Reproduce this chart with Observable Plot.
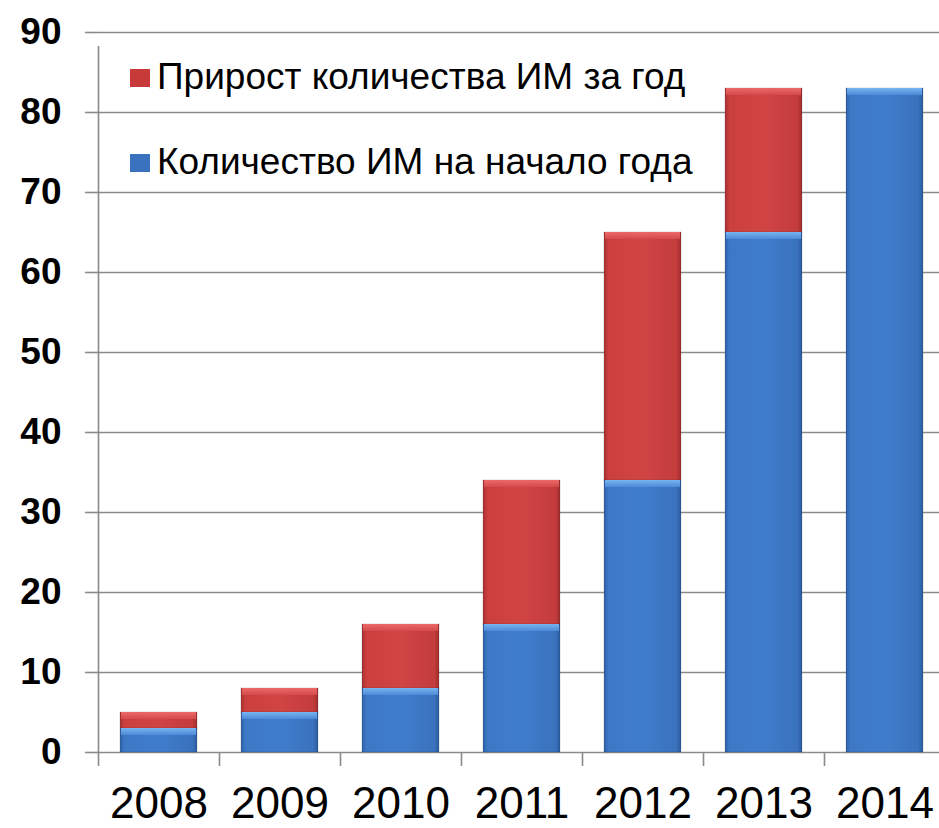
<!DOCTYPE html>
<html><head><meta charset="utf-8">
<script src="https://cdn.jsdelivr.net/npm/d3@7"></script>
<script src="https://cdn.jsdelivr.net/npm/@observablehq/plot@0.6"></script>
<style>
body{margin:0;background:#fff;}
#wrap{position:relative;width:939px;height:828px;font-family:"Liberation Sans",Arial,sans-serif;}
.leg{position:absolute;left:130px;font-size:37px;color:#000;white-space:nowrap;line-height:1;}
.sw{display:inline-block;width:20px;height:18px;margin-right:7px;vertical-align:2px;}
</style>
</head><body>
<div id="wrap"></div>
<script>
const years = ["2008","2009","2010","2011","2012","2013","2014"];
const startCount = [3,5,8,16,34,65,83];
const growth = [2,3,8,18,31,18,0];
const yTicks = [0,10,20,30,40,50,60,70,80,90];
const seriesNames = ["Прирост количества ИМ за год","Количество ИМ на начало года"];

const rows = [];
years.forEach((y,i)=>{
  rows.push({year:y, series:seriesNames[1], value:startCount[i], order:0, top:startCount[i]});
  rows.push({year:y, series:seriesNames[0], value:growth[i], order:1, top:startCount[i]+growth[i]});
});
const shown = rows.filter(d=>d.value>0);

const chart = Plot.plot({
  width: 939, height: 828,
  marginLeft: 98, marginTop: 32, marginBottom: 76, marginRight: 0,
  style:{fontFamily:'"Liberation Sans", Arial, sans-serif', background:"#fff", overflow:"hidden"},
  x:{domain: years, range:[98,945], paddingInner:0.36, paddingOuter:0.18, label:null},
  y:{domain:[0,90], label:null},
  color:{domain: seriesNames, range:["url(#gRed)","url(#gBlue)"]},
  marks:[
    Plot.ruleY(yTicks, {stroke:"#8a8a8a", strokeWidth:1.6}),
    Plot.ruleX([0], {x: ()=>years[0], dx:-60.5, y1:0, y2:90, stroke:"#8a8a8a", strokeWidth:1.6, insetBottom:-14}),
    Plot.ruleX(years, {x: d=>d, dx:-60.5, y1:0, y2:0, stroke:"#8a8a8a", strokeWidth:1.6, insetBottom:-14}),
    Plot.barY(shown, {x:"year", y:"value", fill:"series", order:"order", sort:null, stroke:"rgba(0,0,0,0.15)", strokeWidth:1}),
    Plot.barY(shown, {x:"year", y1:"top", y2:"top", insetBottom:-7, insetLeft:1, insetRight:1,
      fill: d=> d.order===0 ? "url(#hBlue)" : "url(#hRed)"}),
    Plot.axisY(yTicks, {tickSize:13, tickPadding:24, fontSize:37, fontWeight:"bold", stroke:"#8a8a8a", strokeWidth:1.6, fill:"#000", label:null}),
    Plot.axisX({tickSize:0, tickPadding:34, fontSize:44, fill:"#000", label:null})
  ]
});

const svg = d3.select(chart);
const defs = svg.insert("defs",":first-child");
function grad(id, stops, vertical){
  const g = defs.append("linearGradient").attr("id",id).attr("x1","0").attr("y1","0")
    .attr("x2", vertical?"0":"1").attr("y2", vertical?"1":"0");
  stops.forEach(([o,c])=>g.append("stop").attr("offset",o).attr("stop-color",c));
}
grad("gBlue", [["0","#2f62a8"],["0.06","#3d78c6"],["0.5","#3f7dcc"],["0.94","#3a72bd"],["1","#2c5c9e"]]);
grad("gRed", [["0","#a83232"],["0.06","#cc3f3f"],["0.5","#d04444"],["0.94","#c43c3c"],["1","#a02e2e"]]);
grad("hBlue", [["0","#78b4f0"],["1","#4b8ad6"]], true);
grad("hRed", [["0","#ec6a6a"],["1","#d44a4a"]], true);

const wrap = document.getElementById("wrap");
wrap.appendChild(chart);
chart.style.position="absolute"; chart.style.left="0"; chart.style.top="0";

const legendItems = [
  {name: seriesNames[0], color:"#c83a3a", top:58},
  {name: seriesNames[1], color:"#3a72c0", top:143}
];
legendItems.forEach(it=>{
  const d = document.createElement("div");
  d.className="leg"; d.style.top = it.top+"px";
  const s = document.createElement("span"); s.className="sw"; s.style.background=it.color;
  d.appendChild(s); d.appendChild(document.createTextNode(it.name));
  wrap.appendChild(d);
});
</script>
</body></html>
